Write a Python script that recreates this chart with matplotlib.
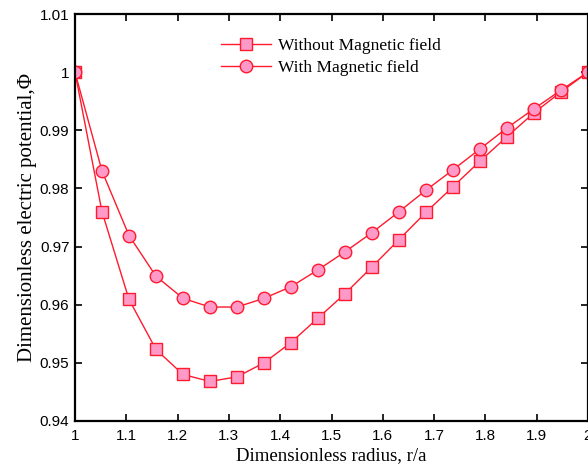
import numpy as np
import matplotlib
matplotlib.use("Agg")
import matplotlib.pyplot as plt
from matplotlib.ticker import FuncFormatter

r = np.linspace(1.0, 2.0, 20)
without_field = [1.0, 0.9760, 0.9609, 0.9523, 0.9480, 0.9468, 0.9476, 0.9500, 0.9535, 0.9577,
                 0.9619, 0.9665, 0.9712, 0.9759, 0.9803, 0.9847, 0.9889, 0.9930, 0.9966, 1.0]
with_field = [1.0, 0.9830, 0.9719, 0.9649, 0.9611, 0.9596, 0.9596, 0.9611, 0.9631, 0.9660,
              0.9691, 0.9724, 0.9760, 0.9797, 0.9832, 0.9868, 0.9904, 0.9937, 0.9969, 1.0]
xticks = [1, 1.1, 1.2, 1.3, 1.4, 1.5, 1.6, 1.7, 1.8, 1.9, 2]
yticks = [0.94, 0.95, 0.96, 0.97, 0.98, 0.99, 1.0, 1.01]

fig = plt.figure(figsize=(5.88, 4.70), dpi=100)
ax = fig.add_axes([75/588, 49/470, 513/588, 407/470])

face = '#ff99c8'
edge = '#ff1a2e'
ax.plot(r, without_field, color=edge, lw=1.0, marker='s', ms=9, mfc=face, mec=edge, mew=1.0,
        label='Without Magnetic field')
ax.plot(r, with_field, color=edge, lw=1.0, marker='o', ms=9, mfc=face, mec=edge, mew=1.0,
        label='With Magnetic field')

ax.set_xlim(1, 2)
ax.set_ylim(0.94, 1.01)
ax.set_xticks(xticks)
ax.set_yticks(yticks)
fmt = FuncFormatter(lambda v, p: ('%.2f' % v).rstrip('0').rstrip('.'))
ax.xaxis.set_major_formatter(fmt)
ax.yaxis.set_major_formatter(fmt)
for lab in ax.get_xticklabels() + ax.get_yticklabels():
    lab.set_fontfamily('Liberation Sans')
    lab.set_fontsize(11)
ax.tick_params(direction='in', top=True, right=True, length=5, width=1.2, pad=4)
ax.tick_params(axis='x', pad=6)
for s in ax.spines.values():
    s.set_linewidth(1.6)

ax.set_xlabel('Dimensionless radius, r/a', fontfamily='Liberation Serif', fontsize=13.5, labelpad=3)
ax.set_ylabel('Dimensionless electric potential,\u03a6', fontfamily='Liberation Serif', fontsize=15, labelpad=2)

leg = ax.legend(loc='upper left', bbox_to_anchor=(0.257, 0.975), frameon=False,
                prop={'family': 'Liberation Serif', 'size': 12.5}, handlelength=2.9,
                handletextpad=0.4, labelspacing=0.35, borderpad=0.3)

fig.savefig('out.png', dpi=100)
